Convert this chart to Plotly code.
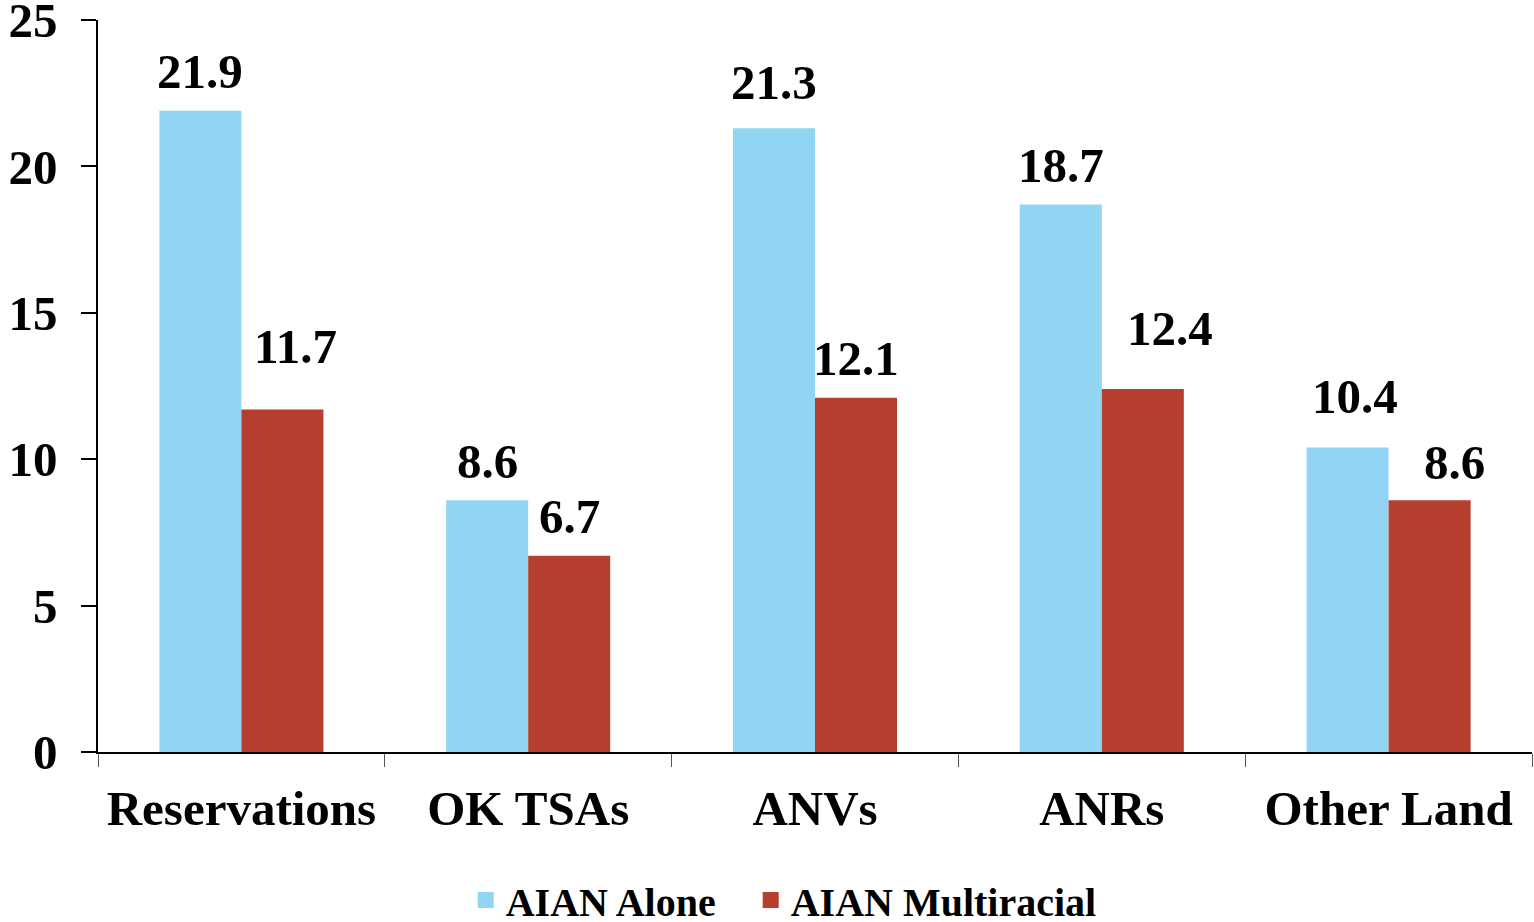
import plotly.graph_objects as go

categories = ["Reservations", "OK TSAs", "ANVs", "ANRs", "Other Land"]
aian_alone = [21.9, 8.6, 21.3, 18.7, 10.4]
aian_multi = [11.7, 6.7, 12.1, 12.4, 8.6]
y_ticks = [0, 5, 10, 15, 20, 25]
series_names = ["AIAN Alone", "AIAN Multiracial"]

BLUE = "#92D5F2"
RED = "#B53E2E"
FONT = "Liberation Serif"
FS = 49

fig = go.Figure()
fig.add_trace(go.Bar(name=series_names[0], x=categories, y=aian_alone, showlegend=False,
                     marker=dict(color=BLUE, line=dict(width=0))))
fig.add_trace(go.Bar(name=series_names[1], x=categories, y=aian_multi, showlegend=False,
                     marker=dict(color=RED, line=dict(width=0))))

# legend entries with larger square swatches; extra spacing after the first entry
legend_pad = ["&nbsp;&nbsp;&nbsp;", ""]
for name, color, pad in zip(series_names, (BLUE, RED), legend_pad):
    fig.add_trace(go.Scatter(x=[None], y=[None], mode="markers", name=f"<b>{name}{pad}</b>",
                             marker=dict(symbol="square", size=20, color=color),
                             showlegend=True))

# value labels above each bar (pixel nudges for readability)
alone_shift = [(0, 39), (0, 39), (0, 46), (0, 39), (7, 51)]
multi_shift = [(13, 63), (0, 39), (0, 39), (27, 60), (25, 38)]
for i, cat in enumerate(categories):
    for val, (dx, dy), side in ((aian_alone[i], alone_shift[i], -1),
                                (aian_multi[i], multi_shift[i], 1)):
        fig.add_annotation(x=cat, y=val, text=f"<b>{val:.1f}</b>",
                           showarrow=False, xshift=side * 41 + dx, yshift=dy,
                           font=dict(family=FONT, size=FS, color="black"))

fig.update_layout(
    width=1534, height=922,
    margin=dict(l=98, r=2, t=20, b=170, autoexpand=False),
    paper_bgcolor="white", plot_bgcolor="white",
    barmode="group", bargap=0.428, bargroupgap=0,
    font=dict(family=FONT, color="black"),
    showlegend=True,
    legend=dict(orientation="h", x=0.2564, xanchor="left",
                y=-(900 - 752) / 732, yanchor="middle",
                font=dict(family=FONT, size=40, color="black"),
                itemsizing="trace", traceorder="normal", itemwidth=30,
                bgcolor="rgba(0,0,0,0)"),
)
fig.update_xaxes(
    showline=True, linecolor="black", linewidth=2,
    ticks="outside", tickson="boundaries", ticklen=13, tickcolor="#555", tickwidth=1,
    tickfont=dict(family=FONT, size=FS, color="black"),
    ticklabelstandoff=12,
    tickprefix="<b>", ticksuffix="</b>",
    showgrid=False, zeroline=False,
)
fig.update_yaxes(
    range=[0, 25], tickvals=y_ticks,
    ticktext=[f"<b>{v}</b>" for v in y_ticks],
    showline=True, linecolor="black", linewidth=1.5,
    ticks="outside", ticklen=15, tickcolor="black", tickwidth=1.5,
    tickfont=dict(family=FONT, size=FS, color="black"),
    ticklabelstandoff=14, ticklabeloverflow="allow",
    showgrid=False, zeroline=False,
)

fig.write_html("out.html")
